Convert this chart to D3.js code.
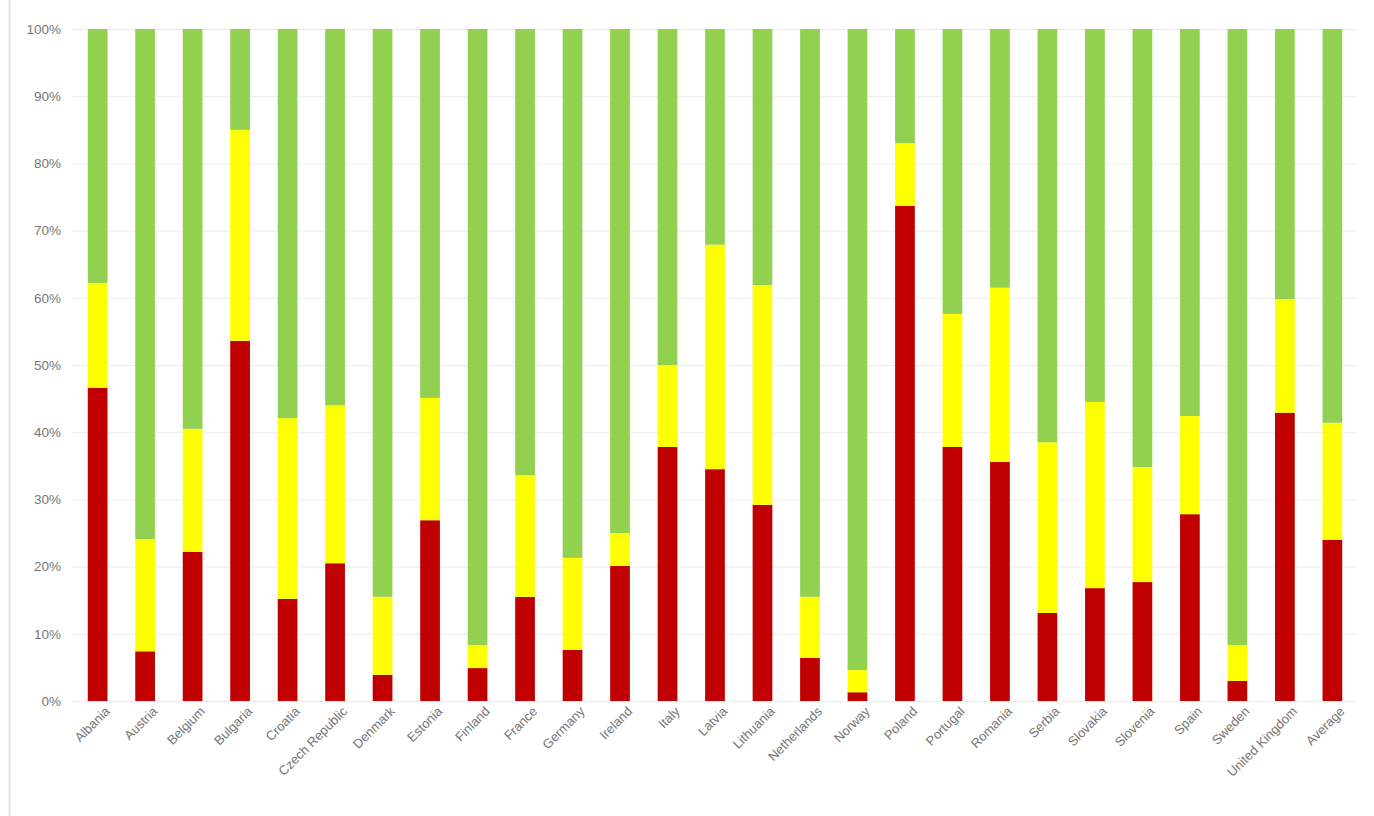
<!DOCTYPE html>
<html>
<head>
<meta charset="utf-8" />
<title>Stacked 100% bars</title>
<script src="https://cdn.jsdelivr.net/npm/d3@7"></script>
<style>
	body { margin: 0; background: #fff; }
	svg { display: block; font-family: "Liberation Sans", Arial, sans-serif; }
	.tick text { fill: #767676; }
</style>
</head>
<body>
<svg width="1374" height="816"></svg>
<script>
const countries = ['Albania', 'Austria', 'Belgium', 'Bulgaria', 'Croatia', 'Czech Republic', 'Denmark',
	'Estonia', 'Finland', 'France', 'Germany', 'Ireland', 'Italy', 'Latvia', 'Lithuania', 'Netherlands',
	'Norway', 'Poland', 'Portugal', 'Romania', 'Serbia', 'Slovakia', 'Slovenia', 'Spain', 'Sweden',
	'United Kingdom', 'Average'];

// share in % (bottom red, middle yellow, top green)
const redValues = [46.6, 7.4, 22.2, 53.6, 15.2, 20.5, 3.9, 26.9, 4.9, 15.5, 7.6, 20.1, 37.8, 34.5,
	29.2, 6.4, 1.3, 73.7, 37.8, 35.6, 13.1, 16.8, 17.7, 27.8, 3.0, 42.9, 24.0];
const yellowValues = [15.6, 16.7, 18.3, 31.4, 26.9, 23.5, 11.6, 18.2, 3.4, 18.1, 13.7, 4.9, 12.2, 33.4,
	32.7, 9.1, 3.3, 9.3, 19.8, 25.9, 25.4, 27.7, 17.1, 14.6, 5.3, 16.9, 17.4];
const greenValues = [37.8, 75.9, 59.5, 15.0, 57.9, 56.0, 84.5, 54.9, 91.7, 66.4, 78.7, 75.0, 50.0, 32.1,
	38.1, 84.5, 95.4, 17.0, 42.4, 38.5, 61.5, 55.5, 65.2, 57.6, 91.7, 40.2, 58.6];

const yTicks = [0, 10, 20, 30, 40, 50, 60, 70, 80, 90, 100];

const seriesKeys = ['red', 'yellow', 'green'];
const colors = { red: '#C00000', yellow: '#FFFF00', green: '#92D050' };

const rows = countries.map((c, i) => ({
	country: c, red: redValues[i], yellow: yellowValues[i], green: greenValues[i]
}));

const svg = d3.select('svg');

// faint frame line on the left
svg.append('line')
	.attr('x1', 9.5).attr('x2', 9.5).attr('y1', 0).attr('y2', 816)
	.attr('stroke', '#e3e3e3').attr('stroke-width', 2);

const xScale = d3.scaleBand().domain(countries).range([74, 1356]).paddingInner(0.585).paddingOuter(0.29);
const yScale = d3.scaleLinear().domain([0, 100]).range([701, 29]);

// gridlines
svg.append('g')
	.selectAll('line')
	.data(yTicks).enter()
	.append('line')
	.attr('x1', 72).attr('x2', 1356)
	.attr('y1', d => yScale(d) + 0.5).attr('y2', d => yScale(d) + 0.5)
	.attr('stroke', '#ededed');

// y axis
const yAxis = d3.axisLeft(yScale).tickValues(yTicks).tickFormat(d => d + '%').tickSize(0).tickPadding(11);
svg.append('g').attr('transform', 'translate(72,0)').call(yAxis)
	.call(g => g.select('.domain').remove())
	.selectAll('text').style('font-size', '13.5px');

// stacked bars
const stacked = d3.stack().keys(seriesKeys)(rows);

svg.append('g').selectAll('g.series')
	.data(stacked).enter()
	.append('g')
	.attr('class', 'series')
	.attr('fill', d => colors[d.key])
	.selectAll('rect')
	.data(d => d).enter()
	.append('rect')
	.attr('x', d => xScale(d.data.country))
	.attr('width', xScale.bandwidth())
	.attr('y', d => yScale(d[1]))
	.attr('height', d => yScale(d[0]) - yScale(d[1]));

// x axis with rotated labels
const xAxis = d3.axisBottom(xScale).tickSize(0).tickPadding(10);
svg.append('g').attr('transform', 'translate(0,701)').call(xAxis)
	.call(g => g.select('.domain').attr('stroke', '#ececec'))
	.selectAll('text')
	.attr('text-anchor', 'end')
	.attr('dx', '0.1em')
	.attr('dy', '0.55em')
	.attr('transform', 'rotate(-45)')
	.style('font-size', '13px');
</script>
</body>
</html>
